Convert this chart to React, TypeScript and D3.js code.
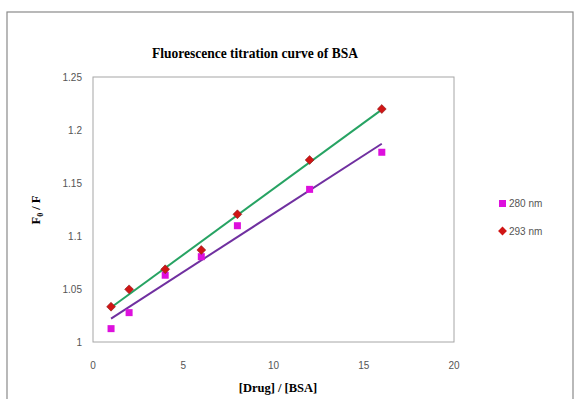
import React from "react";
import * as d3 from "d3";

const xValues = [1, 2, 4, 6, 8, 12, 16];
const series280 = [1.0126, 1.0277, 1.063, 1.0805, 1.1097, 1.144, 1.179];
const series293 = [1.0333, 1.0497, 1.0686, 1.0868, 1.1205, 1.1717, 1.2198];
const xTicks = [0, 5, 10, 15, 20];
const yTicks = [1, 1.05, 1.1, 1.15, 1.2, 1.25];
const seriesNames = ["280 nm", "293 nm"];

function fit(xs: number[], ys: number[]) {
  const mx = d3.mean(xs)!;
  const my = d3.mean(ys)!;
  let sxy = 0, sxx = 0;
  xs.forEach((x, i) => {
    sxy += (x - mx) * (ys[i] - my);
    sxx += (x - mx) * (x - mx);
  });
  const b = sxy / sxx;
  const a = my - b * mx;
  return (x: number) => a + b * x;
}

export default function App() {
  const W = 574, H = 399;
  const left = 93, right = 454, top = 77, bottom = 342;
  const x = d3.scaleLinear().domain([0, 20]).range([left, right]);
  const y = d3.scaleLinear().domain([1, 1.25]).range([bottom, top]);
  const f280 = fit(xValues, series280);
  const f293 = fit(xValues, series293);
  const x0 = xValues[0], x1 = xValues[xValues.length - 1];
  const tickFont = "'Liberation Sans', Arial, sans-serif";
  const serif = "'Liberation Serif', 'Times New Roman', serif";
  const diamond = d3.symbol().type(d3.symbolDiamond2).size(50)()!;

  return (
    <svg width={W} height={H} style={{ position: "absolute", left: 0, top: 0, background: "#fff" }}>
      <rect x={7} y={12} width={566} height={400} fill="#fff" stroke="#8a8a8a" strokeWidth={1.2} />
      <text x={255} y={58} textAnchor="middle" fontFamily={serif} fontWeight="bold" fontSize={14} textLength={206} lengthAdjust="spacingAndGlyphs">
        Fluorescence titration curve of BSA
      </text>
      <rect x={left} y={top} width={right - left} height={bottom - top} fill="none" stroke="#a6a6a6" strokeWidth={1} />
      {yTicks.map((t) => (
        <text key={t} x={82} y={y(t) + 4} textAnchor="end" fontFamily={tickFont} fontSize={10} fill="#555">
          {t}
        </text>
      ))}
      {xTicks.map((t) => (
        <text key={t} x={x(t)} y={369} textAnchor="middle" fontFamily={tickFont} fontSize={10} fill="#555">
          {t}
        </text>
      ))}
      <text x={278} y={392} textAnchor="middle" fontFamily={serif} fontWeight="bold" fontSize={12.5}>
        [Drug] / [BSA]
      </text>
      <text transform="translate(40,210) rotate(-90)" textAnchor="middle" fontFamily={serif} fontWeight="bold" fontSize={12.5}>
        F<tspan fontSize={8} dy={3}>0</tspan><tspan dy={-3}> / F</tspan>
      </text>
      <line x1={x(x0)} y1={y(f293(x0))} x2={x(x1)} y2={y(f293(x1))} stroke="#27a363" strokeWidth={2} />
      <line x1={x(x0)} y1={y(f280(x0))} x2={x(x1)} y2={y(f280(x1))} stroke="#7030a0" strokeWidth={2} />
      {xValues.map((v, i) => (
        <rect key={"s" + i} x={x(v) - 3.5} y={y(series280[i]) - 3.5} width={7} height={7} fill="#dd10dd" />
      ))}
      {xValues.map((v, i) => (
        <path key={"d" + i} d={diamond} transform={`translate(${x(v)},${y(series293[i])})`} fill="#d01515" stroke="#8a2020" strokeWidth={0.6} />
      ))}
      <rect x={499} y={200} width={7} height={7} fill="#dd10dd" />
      <text x={509} y={207} fontFamily={tickFont} fontSize={10} fill="#555">{seriesNames[0]}</text>
      <path d={diamond} transform="translate(502.5,231)" fill="#d01515" />
      <text x={509} y={235} fontFamily={tickFont} fontSize={10} fill="#555">{seriesNames[1]}</text>
    </svg>
  );
}
